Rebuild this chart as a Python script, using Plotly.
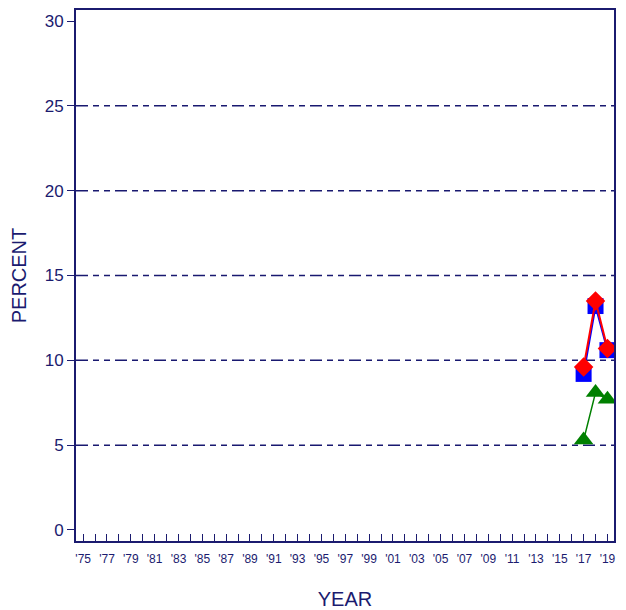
import plotly.graph_objects as go

years = [2017, 2018, 2019]
series_blue = [9.2, 13.2, 10.6]
series_red = [9.6, 13.5, 10.7]
series_green = [5.3, 8.1, 7.7]

tick_years = list(range(1975, 2020))
tick_labels = ["'%02d" % (y % 100) if (y % 2 == 1) else "" for y in tick_years]
y_ticks = [0, 5, 10, 15, 20, 25, 30]
grid_levels = [5, 10, 15, 20, 25]

navy = "#1b1b6f"

fig = go.Figure()
fig.add_trace(go.Scatter(x=years, y=series_blue, mode="lines+markers",
                         line=dict(color="#0000ff", width=2),
                         marker=dict(symbol="square", size=16, color="#0000ff"),
                         showlegend=False))
fig.add_trace(go.Scatter(x=years, y=series_red, mode="lines+markers",
                         line=dict(color="#ff0000", width=2),
                         marker=dict(symbol="diamond", size=15, color="#ff0000"),
                         showlegend=False))
fig.add_trace(go.Scatter(x=years, y=series_green, mode="lines+markers",
                         line=dict(color="#008000", width=1.5),
                         marker=dict(symbol="triangle-up", size=17, color="#008000"),
                         showlegend=False))

for g in grid_levels:
    fig.add_shape(type="line", xref="paper", x0=0, x1=1, yref="y", y0=g, y1=g,
                  line=dict(color="#191970", width=1.5,
                            dash="12px,5px,6px,5px,6px,5px"), layer="below")

fig.update_layout(
    width=610, height=602,
    margin=dict(l=68, r=4, t=2, b=69, autoexpand=False),
    paper_bgcolor="white", plot_bgcolor="white",
    font=dict(family="Liberation Sans, Arial, sans-serif", color=navy),
    xaxis=dict(range=[1974.4, 2019.55], tickvals=tick_years, ticktext=tick_labels,
               ticks="inside", ticklen=7, tickcolor=navy, tickwidth=1,
               showline=True, linecolor=navy, linewidth=2, mirror=True,
               showgrid=False, zeroline=False, tickfont=dict(size=12, color=navy),
               ticklabelstandoff=6, automargin=False,
               title=dict(text="YEAR", font=dict(size=20, color=navy), standoff=30)),
    yaxis=dict(range=[-0.65, 30.65], tickvals=y_ticks,
               ticks="outside", ticklen=7, tickcolor=navy, tickwidth=1,
               showline=True, linecolor=navy, linewidth=2, mirror=True,
               showgrid=False, zeroline=False, tickfont=dict(size=17, color=navy),
               automargin=False,
               title=dict(text="PERCENT", font=dict(size=20, color=navy), standoff=16)),
)

fig.write_html("out.html")
